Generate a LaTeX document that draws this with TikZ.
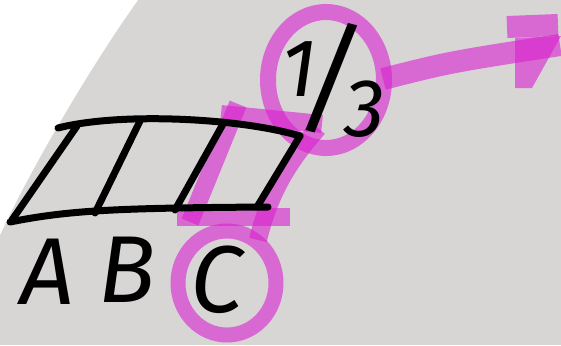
\documentclass[tikz,border=0pt]{standalone}
\usepackage{fontspec}
\setmainfont{Fira Sans}
\definecolor{bg}{RGB}{216,213,213}
\definecolor{mag}{RGB}{216,31,208}
\tikzset{
  hl/.style={draw=mag, draw opacity=0.59, line width=18pt, line cap=butt},
  ink/.style={draw=black, line width=7pt, line cap=round, line join=round},
  lbl/.style={font=\fontsize{95}{95}\selectfont\itshape, inner sep=0pt, text=black},
  fraclbl/.style={font=\fontsize{82}{82}\selectfont\itshape, inner sep=0pt, text=black},
}
\begin{document}
\begin{tikzpicture}[x=1pt,y=-1pt]
\useasboundingbox (0,0) rectangle (561,345);
\fill[bg] (0,0) rectangle (561,345);
\fill[white] (0,0) -- (138,0) .. controls (95,60) and (35,160) .. (0,235) -- cycle;

% magenta highlights
\draw[hl] (221,114) -- (322,124);
\draw[hl] (238,104) -- (190,222);
\draw[hl] (318,128) .. controls (290,160) and (270,190) .. (258,240);
\draw[hl] (177,217) -- (290,217);
\draw[hl, line width=15pt] (227,283) ellipse [x radius=49pt, y radius=52pt];
\draw[hl, line width=16pt] (326,80) ellipse [x radius=58pt, y radius=68pt];
\draw[hl, line width=22pt] (383,79) .. controls (450,62) .. (560,45);
\draw[hl, line width=22pt] (507,27) -- (558,25);
\fill[mag, fill opacity=0.59] (515,38) -- (561,36) -- (532,88) -- (515,88) -- cycle;

% black grid
\coordinate (tl) at (58,128);
\coordinate (tr) at (300,136);
\coordinate (bl) at (10,222);
\coordinate (br) at (268,207);
\draw[ink] (tl) .. controls (120,112) and (240,118) .. (tr);
\draw[ink] (bl) .. controls (70,210) and (120,208) .. (br);
\draw[ink] (77,126) -- (12,220);
\draw[ink] (140,121) -- (95,213);
\draw[ink] (223,124) -- (175,210);
\draw[ink] (tr) -- (257,207);

% labels
\node[lbl] (A) at (47,272) {A};
\node[lbl] (B) at (127,270) {B};
\node[lbl] (C) at (217,280) {C};
\node[fraclbl] (frac) at (333,80) {\raisebox{24pt}{1}\kern-17pt{\fontsize{120}{120}\selectfont/}\kern-17pt\raisebox{-16pt}{3}};
\end{tikzpicture}
\end{document}
